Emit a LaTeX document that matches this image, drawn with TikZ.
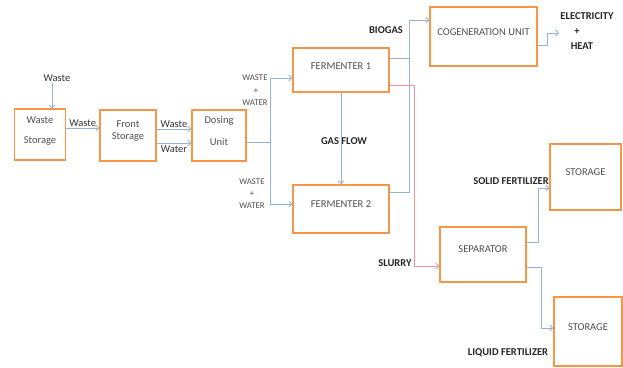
\documentclass[tikz,border=0pt]{standalone}
\usepackage{fontspec}
\setmainfont{Carlito}
\usetikzlibrary{arrows.meta,calc}
\definecolor{boxor}{RGB}{247,150,70}
\definecolor{flowb}{RGB}{149,179,215}
\definecolor{flowr}{RGB}{240,150,150}
\definecolor{boxtxt}{RGB}{80,80,80}
\tikzset{
  box/.style={draw=boxor, line width=1.3pt, fill=white, inner sep=0pt},
  lbl/.style={font=\fontsize{10.5}{12.5}\selectfont, text=boxtxt, inner sep=0pt},
  flow/.style={draw=flowb, line width=0.8pt},
  arr/.style={flow, -{Straight Barb[length=3pt,width=6pt]}},
  slur/.style={draw=flowr, line width=0.8pt, -{Straight Barb[length=3pt,width=6pt]}},
  small/.style={font=\fontsize{8.8}{10}\selectfont, text=boxtxt, inner sep=0pt},
  bold/.style={font=\fontsize{10.5}{12}\selectfont\bfseries, text=black!85, inner sep=0pt},
  plain/.style={font=\fontsize{10.5}{12}\selectfont, text=black!80, inner sep=1pt},
}
\begin{document}
\begin{tikzpicture}[x=1pt,y=-1pt]
\useasboundingbox (0,0) rectangle (623,367);
% boxes
\node[box, minimum width=51pt, minimum height=51pt] (ws) at (40,134.5) {};
\node[lbl] (wst) at (40,120) {Waste};
\node[lbl] (wss) at (40,141) {Storage};
\node[box, minimum width=56pt, minimum height=51pt] (fs) at (128,135.5) {};
\node[lbl, align=center] (fst) at (128,131) {Front\\Storage};
\node[box, minimum width=54pt, minimum height=51pt] (du) at (219,135.5) {};
\node[lbl] (dut) at (219,121) {Dosing};
\node[lbl] (dus) at (219,142) {Unit};
\node[box, minimum width=96pt, minimum height=44pt] (f1) at (341,70) {};
\node[lbl] (f1t) at (341,66) {FERMENTER 1};
\node[box, minimum width=96pt, minimum height=48pt] (f2) at (341,209) {};
\node[lbl] (f2t) at (341,204) {FERMENTER 2};
\node[box, minimum width=107pt, minimum height=59pt] (cog) at (483.5,36.5) {};
\node[lbl] (cogt) at (483.5,32) {COGENERATION UNIT};
\node[box, minimum width=71pt, minimum height=66pt] (st1) at (585.5,177) {};
\node[lbl] (st1t) at (585.5,172) {STORAGE};
\node[box, minimum width=86pt, minimum height=55pt] (sep) at (483,254.5) {};
\node[lbl] (sept) at (483,249) {SEPARATOR};
\node[box, minimum width=68pt, minimum height=69pt] (st2) at (588,331.5) {};
\node[lbl] (st2t) at (588,327) {STORAGE};
% labels
\node[plain] (wl) at (57,78) {Waste};
\node[small] (ww1) at (255,78) {WASTE};
\node[small] (ww2) at (256,91) {+};
\node[small] (ww3) at (255,103) {WATER};
\node[small] (wb1) at (252,182) {WASTE};
\node[small] (wb2) at (252,194) {+};
\node[small] (wb3) at (252,206) {WATER};
\node[bold] (gas) at (344,141) {GAS FLOW};
\node[bold] (bio) at (386,30) {BIOGAS};
\node[bold] (el1) at (587,16) {ELECTRICITY};
\node[bold] (el2) at (577,32) {+};
\node[bold] (el3) at (582,46) {HEAT};
\node[bold] (slu) at (395,263) {SLURRY};
\node[bold] (sol) at (511,181) {SOLID FERTILIZER};
\node[bold] (liq) at (508,353) {LIQUID FERTILIZER};
% coordinates
\coordinate (split) at (270,142);
\coordinate (bg) at (409,20);
\coordinate (sx) at (414,85);
\coordinate (cx) at (547,45);
\coordinate (ce) at (559,33);
\coordinate (s1x) at (538,242);
\coordinate (s2x) at (541,267);
% connectors
\draw[arr] ([xshift=-5pt]wl.south) -- ([xshift=-5pt]wl.south |- ws.north);
\draw[arr] ([yshift=6.5pt]ws.east) -- ([yshift=6.5pt]ws.east -| fs.west)
  node[plain, midway, above=0pt] {Waste};
\draw[arr] ([yshift=6.5pt]fs.east) -- ([yshift=6.5pt]fs.east -| du.west)
  node[plain, midway, above=0pt] {Waste};
\draw[arr] ([yshift=-7.5pt]fs.east) -- ([yshift=-7.5pt]fs.east -| du.west)
  node[plain, midway, below=1pt] {Water};
\draw[flow] ([yshift=-6.5pt]du.east) -- (split);
\draw[arr] (split) |- ([yshift=-8pt]f1.west);
\draw[arr] (split) |- ([yshift=5pt]f2.west);
\draw[arr] (f1.south) -- (f2.north);
\draw[flow] ([yshift=12pt]f1.east) -- ([yshift=12pt]f1.east -| bg);
\draw[arr] ([yshift=17pt]f2.east) -| (bg) -- (bg -| cog.west);
\draw[arr] (cx -| cog.east) -- (cx) |- (ce);
\draw[slur] (f1.east |- sx) -- (sx) |- ([yshift=-11.5pt]sep.west);
\draw[arr] (s1x -| sep.east) -- (s1x) |- ([yshift=-11pt]st1.west);
\draw[arr] (s2x -| sep.east) -- (s2x) |- ([yshift=3.5pt]st2.west);
\end{tikzpicture}
\end{document}
